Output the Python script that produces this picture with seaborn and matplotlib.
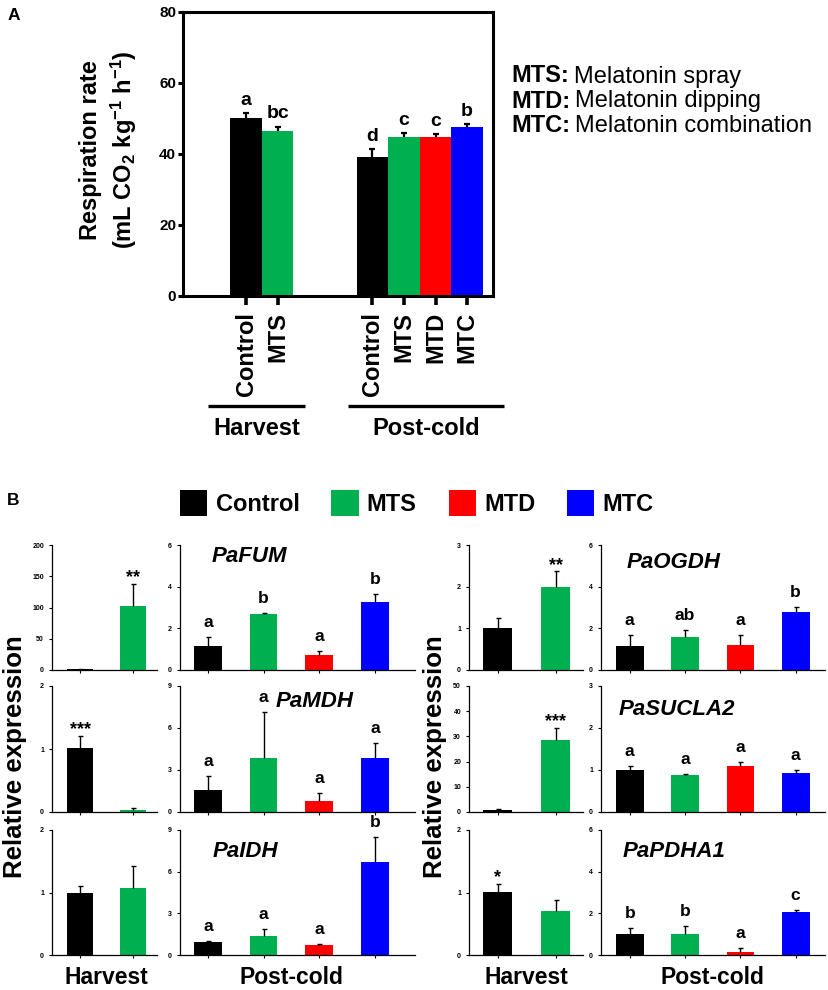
import numpy as np
import pandas as pd
import matplotlib
matplotlib.use("Agg")
import matplotlib.pyplot as plt
import matplotlib.transforms as mtransforms
from matplotlib.patches import Patch
import seaborn as sns

W, H = 829, 990
COLORS = {"Control": "#000000", "MTS": "#00B050", "MTD": "#FF0000", "MTC": "#0000FF"}

# ---- Panel A: respiration rate ----
harvest_treats = ["Control", "MTS"]
postcold_treats = ["Control", "MTS", "MTD", "MTC"]
resp_harvest = [50.2, 46.5]
resp_harvest_err = [1.3, 1.2]
resp_harvest_letters = ["a", "bc"]
resp_post = [39.1, 44.7, 44.7, 47.5]
resp_post_err = [2.3, 1.1, 1.0, 0.9]
resp_post_letters = ["d", "c", "c", "b"]
resp_yticks = [0, 20, 40, 60, 80]

legend_abbr = ["MTS:", "MTD:", "MTC:"]
legend_desc = ["Melatonin spray", "Melatonin dipping", "Melatonin combination"]

# ---- Panel B: relative expression ----
genes = ["PaFUM", "PaMDH", "PaIDH", "PaOGDH", "PaSUCLA2", "PaPDHA1"]

fum_harvest = [1.0, 103.0]
fum_harvest_err = [0.6, 35.0]
fum_harvest_sig = ["", "**"]
fum_post = [1.17, 2.67, 0.72, 3.28]
fum_post_err = [0.40, 0.07, 0.20, 0.38]
fum_post_letters = ["a", "b", "a", "b"]

mdh_harvest = [1.01, 0.03]
mdh_harvest_err = [0.20, 0.03]
mdh_harvest_sig = ["***", ""]
mdh_post = [1.58, 3.87, 0.81, 3.84]
mdh_post_err = [1.00, 3.27, 0.53, 1.10]
mdh_post_letters = ["a", "a", "a", "a"]

idh_harvest = [1.0, 1.07]
idh_harvest_err = [0.10, 0.36]
idh_harvest_sig = ["", ""]
idh_post = [0.96, 1.39, 0.72, 6.67]
idh_post_err = [0.07, 0.50, 0.10, 1.80]
idh_post_letters = ["a", "a", "a", "b"]

ogdh_harvest = [1.02, 2.0]
ogdh_harvest_err = [0.22, 0.37]
ogdh_harvest_sig = ["", "**"]
ogdh_post = [1.17, 1.57, 1.19, 2.78]
ogdh_post_err = [0.49, 0.35, 0.47, 0.26]
ogdh_post_letters = ["a", "ab", "a", "b"]

sucla2_harvest = [0.9, 28.6]
sucla2_harvest_err = [0.4, 4.9]
sucla2_harvest_sig = ["", "***"]
sucla2_post = [1.0, 0.87, 1.10, 0.92]
sucla2_post_err = [0.10, 0.04, 0.08, 0.07]
sucla2_post_letters = ["a", "a", "a", "a"]

pdha1_harvest = [1.01, 0.71]
pdha1_harvest_err = [0.13, 0.17]
pdha1_harvest_sig = ["*", ""]
pdha1_post = [1.03, 1.03, 0.16, 2.05]
pdha1_post_err = [0.25, 0.35, 0.18, 0.12]
pdha1_post_letters = ["b", "b", "a", "c"]

# axis ranges (ymax, tick step)
harvest_yaxis = [(200, 50), (2, 1), (2, 1), (3, 1), (50, 10), (2, 1)]
post_yaxis = [(6, 2), (9, 3), (9, 3), (6, 2), (3, 1), (6, 2)]

panels_b = [
    (fum_harvest, fum_harvest_err, fum_harvest_sig, fum_post, fum_post_err, fum_post_letters),
    (mdh_harvest, mdh_harvest_err, mdh_harvest_sig, mdh_post, mdh_post_err, mdh_post_letters),
    (idh_harvest, idh_harvest_err, idh_harvest_sig, idh_post, idh_post_err, idh_post_letters),
    (ogdh_harvest, ogdh_harvest_err, ogdh_harvest_sig, ogdh_post, ogdh_post_err, ogdh_post_letters),
    (sucla2_harvest, sucla2_harvest_err, sucla2_harvest_sig, sucla2_post, sucla2_post_err, sucla2_post_letters),
    (pdha1_harvest, pdha1_harvest_err, pdha1_harvest_sig, pdha1_post, pdha1_post_err, pdha1_post_letters),
]

# layout (pixels) and title positions (axes fraction)
ROWS_PX = [(545, 670), (686, 812), (830, 955)]
COLS_PX = [
    ((52, 157, (-0.53, 1.45)), (180, 415, (-0.5, 3.72))),
    ((469, 583, (-0.5, 1.47)), (601, 825, (-0.52, 3.53))),
]
TITLE_POS = [(0.296, 0.91), (0.572, 0.88), (0.277, 0.83), (0.324, 0.862), (0.339, 0.815), (0.326, 0.83)]

sns.set_style("ticks", {"axes.edgecolor": "black", "xtick.color": "black",
                        "ytick.color": "black", "text.color": "black"})
plt.rcParams["font.family"] = ["Liberation Sans", "DejaVu Sans"]
plt.rcParams["mathtext.fontset"] = "custom"
plt.rcParams["mathtext.rm"] = "Liberation Sans"
plt.rcParams["mathtext.bf"] = "Liberation Sans:bold"
plt.rcParams["mathtext.it"] = "Liberation Sans:italic"

fig = plt.figure(figsize=(W / 100, H / 100), dpi=100)
renderer = fig.canvas.get_renderer()


def px_axes(left, top, right, bottom):
    return fig.add_axes([left / W, 1 - bottom / H, (right - left) / W, (bottom - top) / H])


def add_errorbars(ax, values, errs, lw, capsize):
    xs = sorted(p.get_x() + p.get_width() / 2 for p in ax.patches)
    eb = ax.errorbar(xs, values, yerr=[np.zeros(len(errs)), errs], fmt="none",
                     ecolor="black", elinewidth=lw, capsize=capsize, capthick=lw, zorder=3)
    # hide the lower cap that would sit on the bar top
    for cap in eb[1]:
        if np.allclose(cap.get_ydata(), values):
            cap.set_visible(False)
    return xs


def annotate_bars(ax, xs, values, errs, labels, size, offset):
    for x, v, e, lab in zip(xs, values, errs, labels):
        if not lab:
            continue
        off = offset - 7 if "*" in lab else offset
        ax.annotate(lab, xy=(x, v + e), xytext=(0, off), textcoords="offset points",
                    ha="center", va="bottom", fontsize=size, fontweight="bold")


# ---------------- Panel A ----------------
ax_a = px_axes(183, 12, 493, 296)
n_h = len(harvest_treats)
pos_h = np.arange(n_h)
pos_p = np.arange(len(postcold_treats)) + n_h + 2
df_a = pd.DataFrame({
    "pos": np.r_[pos_h, pos_p],
    "rate": resp_harvest + resp_post,
    "treat": harvest_treats + postcold_treats,
})
sns.barplot(data=df_a, x="pos", y="rate", hue="treat", palette=COLORS, native_scale=True,
            dodge=False, width=1.0, saturation=1, errorbar=None, legend=False,
            edgecolor="none", linewidth=0, ax=ax_a)
xs_a = add_errorbars(ax_a, resp_harvest + resp_post, resp_harvest_err + resp_post_err, 1.6, 2.5)
annotate_bars(ax_a, xs_a, resp_harvest + resp_post, resp_harvest_err + resp_post_err,
              resp_harvest_letters + resp_post_letters, 14, 3)

ax_a.set_xlim(-2.0, 7.82)
ax_a.set_ylim(0, 80)
ax_a.set_yticks(resp_yticks)
ax_a.set_xticks(xs_a, labels=harvest_treats + postcold_treats, rotation=90,
                fontsize=17, fontweight="bold")
for lbl in ax_a.get_yticklabels():
    lbl.set_fontweight("bold")
ax_a.set_xlabel("")
ax_a.set_ylabel("")
for s in ax_a.spines.values():
    s.set_linewidth(2.2)
ax_a.tick_params(axis="y", length=3.5, width=2.2, labelsize=11, pad=1.5)
ax_a.tick_params(axis="x", length=6.5, width=2.6, pad=5)

trans_a = mtransforms.blended_transform_factory(ax_a.transData, ax_a.transAxes)
for pos, name, (lpad, rpad) in [(pos_h, "Harvest", (1.2, 0.87)), (pos_p, "Post-cold", (0.77, 1.16))]:
    x0, x1 = pos[0] - lpad, pos[-1] + rpad
    ax_a.plot([x0, x1], [-0.387, -0.387], transform=trans_a, color="black", lw=2.4,
              clip_on=False, solid_capstyle="butt")
    ax_a.text((x0 + x1) / 2, -0.425, name, transform=trans_a, ha="center", va="top",
              fontsize=17, fontweight="bold")

fig.text(109 / W, 1 - 150 / H,
         "Respiration rate\n(mL CO$_\\mathbf{2}$ kg$^\\mathbf{-1}$ h$^\\mathbf{-1}$)",
         rotation=90, ha="center", va="center", fontsize=17, fontweight="bold",
         multialignment="center", linespacing=1.3)

# treatment key: bold abbreviation followed by plain description
for i, (abbr, desc) in enumerate(zip(legend_abbr, legend_desc)):
    yb = 1 - (82.5 + 25 * i) / H
    t = fig.text(511 / W, yb, abbr, ha="left", va="baseline", fontsize=17, fontweight="bold")
    x_end = t.get_window_extent(renderer).x1
    fig.text((x_end + 5) / W, yb, desc, ha="left", va="baseline", fontsize=17)

fig.text(8 / W, 1 - 16 / H, "A", ha="left", va="center", fontsize=12.5, fontweight="bold")
fig.text(7 / W, 1 - 500 / H, "B", ha="left", va="center", fontsize=12.5, fontweight="bold")

# ---------------- Panel B ----------------
handles = [Patch(facecolor=COLORS[t], edgecolor="none") for t in postcold_treats]
fig.legend(handles, postcold_treats, loc="center", bbox_to_anchor=(417 / W, 1 - 503 / H),
           ncol=4, frameon=False, prop={"weight": "bold", "size": 17},
           handlelength=1.15, handleheight=1.3, handletextpad=0.35, columnspacing=1.35,
           borderpad=0, borderaxespad=0)


def style_b(ax, ymax, step, xlim):
    ax.set_xlim(*xlim)
    ax.set_ylim(0, ymax)
    ax.set_yticks(np.arange(0, ymax + step / 2, step))
    for lbl in ax.get_yticklabels():
        lbl.set_fontweight("bold")
    ax.set_xticklabels([])
    ax.set_xlabel("")
    ax.set_ylabel("")
    for s in ["top", "right"]:
        ax.spines[s].set_visible(False)
    for s in ["left", "bottom"]:
        ax.spines[s].set_linewidth(0.9)
    ax.tick_params(axis="y", length=2.2, width=0.8, labelsize=5, pad=3.5)
    ax.tick_params(axis="x", length=2.2, width=0.8)


for i, gene in enumerate(genes):
    h_vals, h_err, h_sig, p_vals, p_err, p_let = panels_b[i]
    row, side = i % 3, i // 3
    top, bottom = ROWS_PX[row]
    (hl, hr, hxlim), (pl, pr, pxlim) = COLS_PX[side]

    ax_h = px_axes(hl, top, hr, bottom)
    df_h = pd.DataFrame({"treat": harvest_treats, "expr": h_vals})
    sns.barplot(data=df_h, x="treat", y="expr", hue="treat", palette=COLORS, order=harvest_treats,
                width=0.5, saturation=1, errorbar=None, legend=False,
                edgecolor="none", linewidth=0, ax=ax_h)
    xs_h = add_errorbars(ax_h, h_vals, h_err, 1.0, 1.8)
    annotate_bars(ax_h, xs_h, h_vals, h_err, h_sig, 13, 5)
    style_b(ax_h, *harvest_yaxis[i], hxlim)

    ax_p = px_axes(pl, top, pr, bottom)
    df_p = pd.DataFrame({"treat": postcold_treats, "expr": p_vals})
    sns.barplot(data=df_p, x="treat", y="expr", hue="treat", palette=COLORS, order=postcold_treats,
                width=0.5, saturation=1, errorbar=None, legend=False,
                edgecolor="none", linewidth=0, ax=ax_p)
    xs_p = add_errorbars(ax_p, p_vals, p_err, 1.0, 1.8)
    annotate_bars(ax_p, xs_p, p_vals, p_err, p_let, 12.5, 5)
    style_b(ax_p, *post_yaxis[i], pxlim)

    tx, ty = TITLE_POS[i]
    ax_p.text(tx, ty, gene, transform=ax_p.transAxes, ha="center", va="center",
              fontsize=16, fontweight="bold", fontstyle="italic")

    if row == 2:
        for ax, xs, name in [(ax_h, xs_h, "Harvest"), (ax_p, xs_p, "Post-cold")]:
            tr = mtransforms.blended_transform_factory(ax.transData, ax.transAxes)
            ax.text(np.mean(xs), -0.092, name, transform=tr, ha="center", va="top",
                    fontsize=16.5, fontweight="bold")

for x in [15, 435]:
    fig.text(x / W, 1 - 757 / H, "Relative expression", rotation=90, ha="center",
             va="center", fontsize=18.6, fontweight="bold")

fig.savefig("out.png", dpi=100)
